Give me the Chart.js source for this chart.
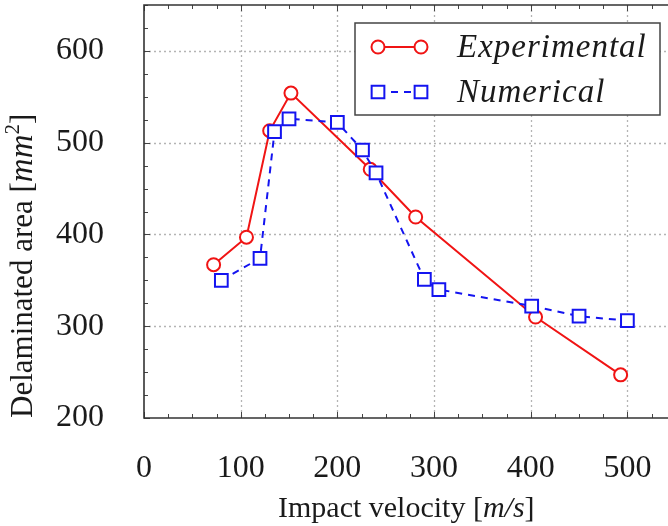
<!DOCTYPE html>
<html>
<head>
<meta charset="utf-8">
<script src="https://cdn.jsdelivr.net/npm/chart.js@4.4.1/dist/chart.umd.min.js"></script>
<style>
  html, body { margin: 0; padding: 0; background: #fff; }
  #wrap { width: 668px; height: 526px; }
</style>
</head>
<body>
<div id="wrap"><canvas id="myChart" width="668" height="526"></canvas></div>
<script>
// 実験値 (赤丸)
const expVelocity = [72, 106, 130, 152, 234, 281, 405, 493];
const expArea     = [367, 397, 513, 554, 471, 419, 310, 247];
// 数値解析 (青四角)
const numVelocity = [80, 120, 135, 150, 200, 226, 240, 290, 305, 401, 450, 500];
const numArea     = [350, 374, 512, 526, 522, 492, 467, 351, 340, 322, 311, 306];
// 目盛り
const xTicks = [0, 100, 200, 300, 400, 500];
const yTicks = [200, 300, 400, 500, 600];
const xMinorStep = 25;
const yMinorStep = 25;

const serif = '"Liberation Serif", "DejaVu Serif", serif';
const RED = 'rgb(240, 20, 20)';
const BLUE = 'rgb(20, 20, 240)';

// 文字列を複数のフォントで続けて描く
function drawRuns(ctx, runs, x, y) {
    let cx = x;
    runs.forEach(r => {
        ctx.font = r.font;
        ctx.fillText(r.t, cx, y + (r.dy || 0));
        cx += ctx.measureText(r.t).width;
    });
}

// 枠・点線グリッド・内向き目盛り
const framePlugin = {
    id: 'frame',
    beforeDatasetsDraw(chart) {
        const {ctx, chartArea: a, scales: {x, y}} = chart;
        ctx.save();
        ctx.strokeStyle = '#b4b4b4';
        ctx.lineWidth = 1.3;
        ctx.setLineDash([2, 3]);
        xTicks.forEach(v => {
            if (v === 0) return;
            const px = Math.round(x.getPixelForValue(v)) + 0.5;
            ctx.beginPath(); ctx.moveTo(px, a.top); ctx.lineTo(px, a.bottom); ctx.stroke();
        });
        yTicks.forEach(v => {
            if (v === y.min) return;
            const py = Math.round(y.getPixelForValue(v)) + 0.5;
            ctx.beginPath(); ctx.moveTo(a.left, py); ctx.lineTo(a.right, py); ctx.stroke();
        });
        ctx.setLineDash([]);
        ctx.strokeStyle = '#444';
        ctx.lineWidth = 1;
        for (let v = 0; v <= x.max; v += xMinorStep) {
            const px = Math.round(x.getPixelForValue(v)) + 0.5;
            const len = v % 100 === 0 ? 6 : 4;
            ctx.beginPath();
            ctx.moveTo(px, a.bottom); ctx.lineTo(px, a.bottom - len);
            ctx.moveTo(px, a.top); ctx.lineTo(px, a.top + len);
            ctx.stroke();
        }
        for (let v = y.min; v <= y.max; v += yMinorStep) {
            const py = Math.round(y.getPixelForValue(v)) + 0.5;
            const len = v % 100 === 0 ? 6 : 4;
            ctx.beginPath(); ctx.moveTo(a.left, py); ctx.lineTo(a.left + len, py); ctx.stroke();
        }
        ctx.strokeStyle = '#333';
        ctx.lineWidth = 1.6;
        ctx.beginPath();
        ctx.moveTo(a.right + 2, a.top); ctx.lineTo(a.left, a.top);
        ctx.lineTo(a.left, a.bottom); ctx.lineTo(a.right + 2, a.bottom);
        ctx.stroke();
        ctx.restore();
    },
    afterDraw(chart) {
        const {ctx} = chart;
        const ds = chart.data.datasets;
        ctx.save();
        ctx.fillStyle = '#1a1a1a';
        ctx.textBaseline = 'alphabetic';
        // 軸タイトル
        drawRuns(ctx, [
            {t: 'Impact velocity [', font: '30px ' + serif},
            {t: 'm/s', font: 'italic 30px ' + serif},
            {t: ']', font: '30px ' + serif}
        ], 278, 517);
        ctx.save();
        ctx.translate(32, 418);
        ctx.rotate(-Math.PI / 2);
        drawRuns(ctx, [
            {t: 'Delaminated area [', font: '31px ' + serif},
            {t: 'mm', font: 'italic 33px ' + serif},
            {t: '2', font: '21px ' + serif, dy: -13},
            {t: ']', font: '31px ' + serif}
        ], 0, 0);
        ctx.restore();

        // 凡例
        const bx = 355, by = 23, bw = 305, bh = 92;
        ctx.fillStyle = '#fff';
        ctx.fillRect(bx, by, bw, bh);
        ctx.strokeStyle = '#444';
        ctx.lineWidth = 1.5;
        ctx.strokeRect(bx, by, bw, bh);
        const rows = [47, 92];
        [ds[1], ds[0]].forEach((d, i) => {
            const yy = rows[i];
            ctx.strokeStyle = d.borderColor;
            ctx.lineWidth = d.borderWidth;
            ctx.setLineDash(d.borderDash || []);
            ctx.beginPath(); ctx.moveTo(378, yy); ctx.lineTo(421, yy); ctx.stroke();
            ctx.setLineDash([]);
            [378, 421].forEach(px => {
                ctx.fillStyle = '#fff';
                ctx.strokeStyle = d.borderColor;
                ctx.lineWidth = d.pointBorderWidth;
                Chart.helpers.drawPoint(ctx, {
                    pointStyle: d.pointStyle, radius: d.pointRadius, borderWidth: d.pointBorderWidth, rotation: 0
                }, px, yy);
            });
            ctx.fillStyle = '#1a1a1a';
            ctx.font = 'italic 33px ' + serif;
            ctx.letterSpacing = '1px';
            ctx.fillText(d.label, 457, yy + 10);
            ctx.letterSpacing = '0px';
        });
        ctx.restore();
    }
};

const ctx = document.getElementById('myChart').getContext('2d');
const myChart = new Chart(ctx, {
    type: 'line',
    data: {
        datasets: [
            {
                label: 'Numerical',
                data: numVelocity.map((v, i) => ({x: v, y: numArea[i]})),
                borderColor: BLUE,
                borderWidth: 2,
                borderDash: [7, 6],
                pointStyle: 'rect',
                pointRadius: 9,
                pointBorderWidth: 2,
                pointBackgroundColor: '#fff',
                pointBorderColor: BLUE,
                order: 0
            },
            {
                label: 'Experimental',
                data: expVelocity.map((v, i) => ({x: v, y: expArea[i]})),
                borderColor: RED,
                borderWidth: 2,
                pointStyle: 'circle',
                pointRadius: 6.5,
                pointBorderWidth: 2,
                pointBackgroundColor: '#fff',
                pointBorderColor: RED,
                order: 1
            }
        ]
    },
    options: {
        responsive: false,
        animation: false,
        layout: { autoPadding: false, padding: { top: 5, right: 0, left: 0, bottom: 0 } },
        plugins: { legend: { display: false }, tooltip: { enabled: false } },
        scales: {
            x: {
                type: 'linear',
                min: 0,
                max: 542,
                afterBuildTicks: s => { s.ticks = xTicks.map(v => ({value: v})); },
                afterFit: s => { s.height = 108; s.paddingLeft = 0; s.paddingRight = 0; },
                grid: { display: false, drawTicks: false },
                border: { display: false },
                ticks: { padding: 31, color: '#1a1a1a', font: { family: serif, size: 32 } }
            },
            y: {
                type: 'linear',
                min: 200,
                max: 650,
                afterBuildTicks: s => { s.ticks = yTicks.map(v => ({value: v})); },
                afterFit: s => { s.width = 144; s.paddingTop = 0; s.paddingBottom = 0; },
                grid: { display: false, drawTicks: false },
                border: { display: false },
                ticks: { padding: 40, color: '#1a1a1a', font: { family: serif, size: 32 } }
            }
        }
    },
    plugins: [framePlugin]
});
</script>
</body>
</html>
